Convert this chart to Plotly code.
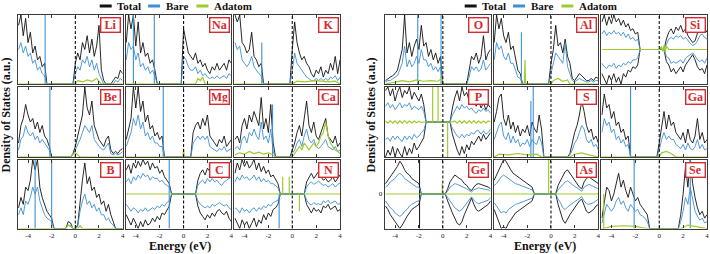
import plotly.graph_objects as go

# ---------------- energy grid (eV) ----------------
E = [-4.8, -4.6, -4.4, -4.2, -4.0, -3.8, -3.6, -3.4, -3.2, -3.0, -2.8, -2.6, -2.4, -2.2, -2.0,
     -1.8, -1.6, -1.4, -1.2, -1.0, -0.8, -0.6, -0.4, -0.2, 0.0, 0.2, 0.4, 0.6, 0.8, 1.0, 1.2,
     1.4, 1.6, 1.8, 2.0, 2.2, 2.4, 2.6, 2.8, 3.0, 3.2, 3.4, 3.6, 3.8, 4.0]
X_TICKS = [-4, -2, 0, 2, 4]
LEGEND_LABELS = ["Total", "Bare", "Adatom"]
Y_TITLE = "Density of States (a.u.)"
X_TITLE = "Energy (eV)"

# ---------------- DOS values (a.u., % of panel height) ----------------
LI_TOTAL = [85,100,70,95,60,75,45,55,35,40,25,30, 0,0,0,0,0,0,0,0,0,0,0,0, 30,45,35,60,50,70,45,65,40,55,85,20,5,0,0,0,5,10,8,20,15]
LI_BARE = [50,60,45,55,40,45,30,35,20,25,15,12, 0,0,0,0,0,0,0,0,0,0,0,0, 15,25,20,35,30,40,25,35,20,30,15,8,0,0,0,0,0,5,3,8,5]
LI_BARE_STICKS = [(-2.55, 100)]
LI_ADATOM = [(-4.8,0),(0.0,0),(0.2,5),(0.6,3),(1.0,6),(1.4,4),(1.8,8),(2.2,0),(4.0,0)]

NA_TOTAL = [60,100,80,100,55,90,45,60,40,45,30,35,20, 0,0,0,0,0,0,0,0,0,0,0, 80,60,45,40,35,45,30,35,25,30,20,15,25,20,30,20,25,30,20,35,30]
NA_BARE = [35,60,50,55,35,45,25,30,20,25,15,20,12, 0,0,0,0,0,0,0,0,0,0,0, 40,35,25,20,20,25,15,20,12,15,10,8,10,8,12,8,10,12,8,15,12]
NA_BARE_STICKS = [(-4.2, 100), (-2.45, 100)]
NA_ADATOM = [(-4.8,0),(1.0,0),(1.2,8),(1.4,5),(1.6,10),(1.8,0),(4.0,0)]

K_TOTAL = [100,90,100,60,55,45,50,75,40,35,25,30, 0,0,0,0,0,0,0,0,0,0,0,0, 50,90,60,45,35,40,30,25,15,10,20,15,25,10,20,15,30,20,40,15,35]
K_BARE = [60,50,55,35,30,25,30,40,25,20,15,12, 0,0,0,0,0,0,0,0,0,0,0,0, 20,45,30,25,20,15,10,8,5,5,8,5,8,5,8,5,10,8,12,5,10]
K_BARE_STICKS = [(-2.55, 60)]
K_ADATOM = [(-4.8,0),(0.0,0),(0.4,4),(1.0,3),(2.0,5),(3.0,3),(3.6,4),(4.0,0)]

BE_TOTAL = [20,45,55,75,60,50,55,40,50,35,45,30,25,15, 0,0,0,0,0,0,0,0,0, 5, 15,30,45,60,100,70,60,80,45,35,25,20,15,25,30,10,5,8,5,10,12]
BE_BARE = [10,25,30,45,35,30,35,25,30,20,25,20,15,10, 0,0,0,0,0,0,0,0,0, 3, 10,18,25,35,45,40,35,45,25,20,15,12,10,15,20,5,3,5,3,5,8]
BE_BARE_STICKS = [(-2.15, 100)]
BE_ADATOM = [(-4.8,0),(-0.4,0),(-0.2,4),(0.0,6),(0.2,3),(0.4,0),(4.0,0)]

MG_TOTAL = [25,40,55,100,70,100,65,80,50,60,40,45,30,35,25,30, 0,0,0,0,0,0,0,0,0,0,0,0, 35,45,50,40,55,45,60,30,25,20,15,25,20,30,15,20,25]
MG_BARE = [15,25,35,55,45,60,40,50,30,35,25,30,20,20,15,15, 0,0,0,0,0,0,0,0,0,0,0,0, 20,25,30,25,30,25,30,15,12,10,8,12,10,15,8,10,12]
MG_BARE_STICKS = [(-1.7, 100)]
MG_ADATOM = [(-4.8,0),(-0.05,0),(0.0,12),(0.05,0),(4.0,0)]

CA_TOTAL = [25,30,20,45,55,40,60,50,65,55,45,85,40,55,35,75,20, 0,0,0,0,0,0,0, 10,20,35,45,30,55,80,45,35,50,30,25,35,45,55,30,25,20,30,15,20]
CA_BARE = [12,15,10,25,30,20,35,30,40,30,25,50,25,30,20,40,8, 0,0,0,0,0,0,0, 5,10,20,25,15,30,40,25,20,25,15,12,15,20,25,15,12,10,15,8,10]
CA_BARE_STICKS = [(-1.65, 75)]
CA_ADATOM = [(-4.8,3),(-4.4,6),(-4.0,4),(-3.6,8),(-3.2,5),(-2.8,7),(-2.4,4),(-2.0,6),(-1.6,3),(-1.4,0),
             (0.0,0),(0.2,5),(0.4,10),(0.6,15),(0.8,10),(1.0,20),(1.2,15),(1.4,10),(1.6,15),(1.8,20),
             (2.0,15),(2.2,20),(2.4,30),(2.6,35),(2.8,50),(3.0,30),(3.2,20),(3.4,15),(3.6,10),(3.8,8),(4.0,5)]

B_TOTAL = [30,45,35,60,55,70,100,85,100,60,45,35,25,20,15, 0,0,0,0,0,0, 10,8,0,0,5, 40,70,95,65,75,55,60,45,50,35,40,25,35,20,10, 0,0,0,0]
B_BARE = [20,30,20,40,35,45,60,50,60,40,30,20,15,12,10, 0,0,0,0,0,0, 5,3,0,0,3, 25,40,50,35,40,30,35,25,30,20,20,12,15,8,5, 0,0,0,0]
B_BARE_STICKS = [(-3.4, 100), (-2.0, 100)]
B_ADATOM = [(-4.8,0),(-0.8,0),(-0.6,5),(-0.4,4),(-0.2,0),(0.2,0),(0.4,4),(0.6,0),(4.0,0)]

C_TOTAL_UP = [70,85,60,90,75,95,80,100,85,95,70,90,75,80,60,70,50,40,30, 0,0,0,0,0,0,0,0,0,0,0, 40,60,70,55,75,65,80,60,70,55,45,60,70,85,100]
C_TOTAL_DN = [60,75,90,70,85,100,80,95,75,90,85,70,80,65,75,55,60,45,35, 0,0,0,0,0,0,0,0,0,0,0, 35,55,65,75,60,70,55,65,50,45,55,60,50,70,80]
C_BARE_UP = [35,45,30,50,40,55,45,60,50,55,40,50,45,45,35,40,30,25,20, 0,0,0,0,0,0,0,0,0,0,0, 25,35,40,30,45,35,45,35,40,30,25,35,40,45,50]
C_BARE_DN = [30,40,50,40,45,55,45,50,40,50,45,40,45,35,40,30,35,25,20, 0,0,0,0,0,0,0,0,0,0,0, 20,30,35,40,35,40,30,35,30,25,30,35,30,40,45]
C_BARE_STICKS = [(-1.2, 100), (-1.2, -100)]
C_ADATOM = [(-4.8,0),(4.0,0)]

N_TOTAL_UP = [60,90,70,100,80,95,75,85,100,70,90,65,80,60,70,50,55,40,30, 0,0,0,0,0,0,0,0,0,0,0, 35,50,60,45,55,65,50,40,45,35,40,50,35,45,55]
N_TOTAL_DN = [70,85,100,75,90,80,100,85,70,95,75,85,60,75,55,65,45,40,30, 0,0,0,0,0,0,0,0,0,0,0, 30,45,55,40,50,45,55,35,40,30,45,40,35,50,45]
N_BARE_UP = [35,50,40,55,45,50,40,45,55,40,50,35,45,35,40,30,30,25,18, 0,0,0,0,0,0,0,0,0,0,0, 20,30,35,28,32,38,30,25,28,20,25,30,20,28,32]
N_BARE_DN = [40,45,55,40,50,45,55,45,40,50,40,45,35,40,30,35,25,22,18, 0,0,0,0,0,0,0,0,0,0,0, 18,28,32,25,30,28,32,20,25,18,28,25,20,30,28]
N_BARE_STICKS = [(-1.1, -100)]
N_ADATOM = [(-4.8,0),(-0.8,0),(-0.8,50),(-0.8,0),(-0.25,0),(-0.25,50),(-0.25,0),(0.6,0),(0.6,-50),(0.6,0),(4.0,0)]

O_TOTAL = [5,8,10,12,15,20,35,50,100,45,60,40,55,65,50,85,55,60,40,50,35,45,30,40, 0,0,0,0,0,0,0,0,0,0,0, 20,40,35,45,30,40,70,35,45,50]
O_BARE = [3,5,5,8,10,12,20,30,55,25,35,25,30,40,30,50,35,35,25,30,20,25,18,25, 0,0,0,0,0,0,0,0,0,0,0, 10,25,20,25,18,22,35,20,25,30]
O_BARE_STICKS = [(-2.1, 100), (-0.15, 100)]
O_ADATOM = [(-4.8,0),(-4.0,3),(-3.4,5),(-2.8,3),(-2.2,6),(-1.6,4),(-1.0,5),(-0.4,4),(-0.1,8),(0.0,0),(4.0,0)]

AL_TOTAL = [60,100,80,95,70,60,75,50,55,35,20,15, 0,0,0,0,0,0,0,0,0,0,0,0, 30,50,85,55,60,45,65,40,30,8,5,10,15,12,8,5,5,8,5,10,8]
AL_BARE = [35,60,50,55,40,35,45,30,30,20,10,8, 0,0,0,0,0,0,0,0,0,0,0,0, 15,30,45,40,35,30,60,25,15,5,3,5,8,6,4,3,3,5,3,5,5]
AL_BARE_STICKS = [(-2.5, 75)]
AL_ADATOM = [(-4.8,0),(-2.25,0),(-2.2,35),(-2.15,0),(0.0,0),(0.2,5),(0.6,8),(1.0,4),(1.4,6),(1.6,0),(4.0,0)]

SI_TOTAL_UP = [80,100,70,95,75,100,80,90,70,85,65,75,55,60,45,50, 0,0,0,0,0,0,0,0,0,0,0, 30,50,60,45,65,55,70,50,60,40,30,20,25,45,70,80,60,50]
SI_TOTAL_DN = [70,85,100,75,90,70,95,80,100,70,80,60,65,50,55,45, 0,0,0,0,0,0,0,0,0,0,0, 35,45,65,55,70,60,50,65,45,35,25,15,30,50,60,55,70,45]
SI_BARE_UP = [45,55,40,50,45,55,45,50,40,50,35,45,30,35,25,30, 0,0,0,0,0,0,0,0,0,0,0, 15,30,35,30,40,35,40,30,35,25,18,12,15,25,40,45,35,30]
SI_BARE_DN = [40,50,55,45,50,40,55,45,50,40,45,35,40,30,30,25, 0,0,0,0,0,0,0,0,0,0,0, 20,25,40,35,40,35,30,40,25,20,15,10,18,30,35,30,40,25]
SI_BARE_STICKS = []
SI_ADATOM = [(-4.8,0),(0.0,0),(0.2,8),(0.3,-6),(0.4,12),(0.5,-8),(0.6,10),(0.8,0),(4.0,0)]

P_TOTAL_UP = [90,100,75,95,60,85,100,70,90,80,100,65,85,70,60,80,50, 0,0,0,0,0,0,0,0,0,0,0, 40,70,90,60,100,75,85,60,70,55,45,60,40,55,35,50,40]
P_TOTAL_DN = [100,80,95,70,100,75,90,100,70,95,75,90,60,80,70,55,45, 0,0,0,0,0,0,0,0,0,0,0, 35,60,80,95,70,90,65,80,55,65,50,40,55,35,50,40,30]
P_BARE_UP = [45,55,40,50,35,45,55,40,50,45,55,35,45,40,35,45,30, 0,0,0,0,0,0,0,0,0,0,0, 20,35,45,35,50,40,45,35,40,30,25,35,30,40,30,35,25]
P_BARE_DN = [50,45,55,40,50,40,50,55,40,50,40,50,35,45,40,30,25, 0,0,0,0,0,0,0,0,0,0,0, 18,30,40,45,35,45,35,40,30,35,25,25,35,25,35,30,20]
P_BARE_STICKS = []
P_ADATOM = [(-4.8,3),(-4.6,-3),(-4.4,4),(-4.2,-3),(-4.0,3),(-3.8,-4),(-3.6,3),(-3.4,-3),(-3.2,4),(-3.0,-3),
            (-2.8,3),(-2.6,-3),(-2.4,3),(-2.2,-2),(-2.0,2),(-1.8,-2),(-1.6,0),
            (-0.85,0),(-0.85,100),(-0.85,0),(-0.4,0),(-0.4,100),(-0.4,0),(0.4,0),(0.4,-100),(0.4,0),
            (0.8,0),(1.0,3),(1.2,-3),(1.4,4),(1.6,-3),(1.8,3),(2.0,-4),(2.2,3),(2.4,-3),(2.6,4),
            (2.8,-3),(3.0,3),(3.2,-3),(3.4,3),(3.6,-3),(3.8,3),(4.0,0)]

S_TOTAL = [50,65,85,90,55,45,60,40,50,35,45,30,40,35,45,30,50,40,35,60,40, 0,0,0,0,0,0,0,0,0,0,0, 5,20,35,45,60,80,65,45,35,40,25,30,20]
S_BARE = [25,35,45,50,30,25,35,20,30,20,25,15,20,18,25,15,25,20,18,30,20, 0,0,0,0,0,0,0,0,0,0,0, 3,10,20,25,35,45,40,25,20,25,15,18,10]
S_BARE_STICKS = [(-1.7, 80), (-1.5, 100)]
S_ADATOM = [(-4.8,0),(-4.4,4),(-3.6,3),(-2.8,5),(-2.0,3),(-1.2,4),(-0.8,0),(1.6,0),(2.0,4),(2.6,6),(3.2,3),(4.0,0)]

GA_TOTAL = [60,90,70,75,55,65,45,50,35,40,25,30, 0,0,0,0,0,0,0,0,0,0,0,0, 20,45,65,40,60,45,50,35,30,25,35,20,40,25,20,30,55,25,35,20,25]
GA_BARE = [35,55,45,50,35,40,25,30,20,25,15,18, 0,0,0,0,0,0,0,0,0,0,0,0, 10,25,35,25,30,25,25,18,15,12,18,10,20,12,10,15,25,12,18,10,12]
GA_BARE_STICKS = [(-2.4, 100)]
GA_ADATOM = [(-4.8,0),(0.0,0),(0.2,6),(0.6,8),(1.0,5),(1.4,0),(4.0,0)]

GE_TOTAL_UP = [30,40,50,60,70,80,95,85,70,60,55,45,40,35,30, 0,0,0,0,0,0,0,0,0,0,0, 15,35,45,55,50,45,40,30,25,15,10,20,28,30,28,25,22,20,15]
GE_TOTAL_DN = [35,45,60,70,80,90,100,90,75,65,55,45,40,35,30, 0,0,0,0,0,0,0,0,0,0,0, 20,40,55,70,85,90,80,60,45,25,12,30,45,50,45,40,35,30,20]
GE_BARE_UP = [20,25,35,40,45,55,60,55,45,40,35,30,25,20,20, 0,0,0,0,0,0,0,0,0,0,0, 8,20,25,30,28,25,22,18,15,10,6,12,16,18,16,15,13,12,8]
GE_BARE_DN = [20,30,40,45,55,60,65,60,50,45,35,30,25,22,20, 0,0,0,0,0,0,0,0,0,0,0, 10,22,30,40,45,50,45,35,25,15,8,18,25,28,25,22,20,18,10]
GE_TOTAL_STICKS = [(-1.95, 100), (-1.95, -100)]
GE_BARE_STICKS = []
GE_ADATOM = [(-4.8,0),(-0.05,0),(-0.05,30),(-0.05,0),(4.0,0)]

AS_TOTAL_UP = [40,55,75,90,100,95,80,70,60,55,50,45,40,35,30,25,20, 0,0,0,0,0,0,0,0,0,0, 25,40,55,65,70,60,50,40,30,20,15,35,45,50,45,40,35,30]
AS_TOTAL_DN = [45,65,85,100,95,100,85,75,65,55,50,45,40,35,30,25,20, 0,0,0,0,0,0,0,0,0,0, 30,50,75,85,70,60,50,40,30,20,15,35,50,55,50,45,35,30]
AS_BARE_UP = [25,30,40,50,55,50,45,40,35,30,28,25,22,20,18,15,12, 0,0,0,0,0,0,0,0,0,0, 12,20,30,35,38,32,28,22,18,12,8,20,25,28,25,22,20,15]
AS_BARE_DN = [25,35,45,55,50,55,45,40,35,30,28,25,22,20,18,15,12, 0,0,0,0,0,0,0,0,0,0, 15,25,40,45,38,32,28,22,18,12,8,20,28,30,28,25,20,15]
AS_BARE_STICKS = []
AS_ADATOM = [(-4.8,0),(-0.2,0),(-0.2,100),(-0.2,0),(4.0,0)]

SE_TOTAL = [15,35,60,55,40,50,65,80,60,70,55,45,60,50,40,45,35,30,25,20, 0,0,0,0,0,0,0,0,0,0,0,0,0, 20,50,90,60,100,65,45,30,20,25,15,20]
SE_BARE = [8,20,35,30,25,30,40,45,35,40,30,25,35,30,25,28,20,18,15,10, 0,0,0,0,0,0,0,0,0,0,0,0,0, 10,25,45,35,60,40,25,18,12,15,8,10]
SE_BARE_STICKS = [(-2.1, 100), (2.6, 100)]
SE_ADATOM = [(-4.8,0),(-4.65,0),(-4.65,50),(-4.65,0),(-4.0,3),(-3.0,4),(-2.0,3),(-1.0,0),(1.8,0),(2.4,5),(3.0,3),(4.0,0)]

# ---------------- panel table ----------------
def P(name, total, bare, bare_sticks, adatom, total_dn=None, bare_dn=None, total_sticks=()):
    return dict(name=name, total=total, bare=bare, bare_sticks=bare_sticks, adatom=adatom,
                total_dn=total_dn, bare_dn=bare_dn, total_sticks=list(total_sticks))

PANELS = [
    P("Li", LI_TOTAL, LI_BARE, LI_BARE_STICKS, LI_ADATOM),
    P("Na", NA_TOTAL, NA_BARE, NA_BARE_STICKS, NA_ADATOM),
    P("K", K_TOTAL, K_BARE, K_BARE_STICKS, K_ADATOM),
    P("Be", BE_TOTAL, BE_BARE, BE_BARE_STICKS, BE_ADATOM),
    P("Mg", MG_TOTAL, MG_BARE, MG_BARE_STICKS, MG_ADATOM),
    P("Ca", CA_TOTAL, CA_BARE, CA_BARE_STICKS, CA_ADATOM),
    P("B", B_TOTAL, B_BARE, B_BARE_STICKS, B_ADATOM),
    P("C", C_TOTAL_UP, C_BARE_UP, C_BARE_STICKS, C_ADATOM, C_TOTAL_DN, C_BARE_DN),
    P("N", N_TOTAL_UP, N_BARE_UP, N_BARE_STICKS, N_ADATOM, N_TOTAL_DN, N_BARE_DN),
    P("O", O_TOTAL, O_BARE, O_BARE_STICKS, O_ADATOM),
    P("Al", AL_TOTAL, AL_BARE, AL_BARE_STICKS, AL_ADATOM),
    P("Si", SI_TOTAL_UP, SI_BARE_UP, SI_BARE_STICKS, SI_ADATOM, SI_TOTAL_DN, SI_BARE_DN),
    P("P", P_TOTAL_UP, P_BARE_UP, P_BARE_STICKS, P_ADATOM, P_TOTAL_DN, P_BARE_DN),
    P("S", S_TOTAL, S_BARE, S_BARE_STICKS, S_ADATOM),
    P("Ga", GA_TOTAL, GA_BARE, GA_BARE_STICKS, GA_ADATOM),
    P("Ge", GE_TOTAL_UP, GE_BARE_UP, GE_BARE_STICKS, GE_ADATOM, GE_TOTAL_DN, GE_BARE_DN, GE_TOTAL_STICKS),
    P("As", AS_TOTAL_UP, AS_BARE_UP, AS_BARE_STICKS, AS_ADATOM, AS_TOTAL_DN, AS_BARE_DN),
    P("Se", SE_TOTAL, SE_BARE, SE_BARE_STICKS, SE_ADATOM),
]

for p in PANELS:
    for key in ("total", "bare", "total_dn", "bare_dn"):
        if p[key] is not None:
            assert len(p[key]) == len(E), (p["name"], key, len(p[key]))

# ---------------- style / geometry ----------------
W, H = 710, 254
BLACK = "#111111"
BLUE = "#3f8fd2"
GREEN = "#9fcb2f"
RED = "#d42a30"
FRAME = "#3a3a3a"
FONT = "Liberation Serif"
COL_X = [(18, 123), (126, 232), (235, 341), (386, 492), (495, 600), (603, 709)]
ROW_Y = [(15, 84), (87, 157), (159.5, 228.5)]
XR = [-4.85, 4.0]


def px(x):
    return x / W


def py(y):
    return 1 - y / H


def sticks_xy(sticks):
    xs, ys = [], []
    for e, h in sticks:
        xs += [e, e, None]
        ys += [0, h, None]
    return xs, ys


fig = go.Figure()
layout = {}
shapes = []
annotations = []

for i, p in enumerate(PANELS):
    n = i + 1
    grp, r, c = i // 9, (i % 9) // 3, i % 3
    x0, x1 = COL_X[grp * 3 + c]
    y0, y1 = ROW_Y[r]
    xa, ya = ("x%d" % n if n > 1 else "x"), ("y%d" % n if n > 1 else "y")
    spin = p["total_dn"] is not None
    common = dict(xaxis=xa, yaxis=ya, mode="lines", showlegend=False, hoverinfo="skip")

    # Total
    fig.add_trace(go.Scatter(x=E, y=p["total"], line=dict(color=BLACK, width=0.9), **common))
    if spin:
        fig.add_trace(go.Scatter(x=E, y=[-v for v in p["total_dn"]], line=dict(color=BLACK, width=0.9), **common))
    if p["total_sticks"]:
        sx, sy = sticks_xy(p["total_sticks"])
        fig.add_trace(go.Scatter(x=sx, y=sy, line=dict(color=BLACK, width=1), **common))
    # Bare
    fig.add_trace(go.Scatter(x=E, y=p["bare"], line=dict(color=BLUE, width=0.9), **common))
    if spin:
        fig.add_trace(go.Scatter(x=E, y=[-v for v in p["bare_dn"]], line=dict(color=BLUE, width=0.9), **common))
    if p["bare_sticks"]:
        sx, sy = sticks_xy(p["bare_sticks"])
        fig.add_trace(go.Scatter(x=sx, y=sy, line=dict(color=BLUE, width=1.1), **common))
    # Adatom
    fig.add_trace(go.Scatter(x=[a for a, _ in p["adatom"]], y=[b for _, b in p["adatom"]],
                             line=dict(color=GREEN, width=1.2), **common))

    bottom = (r == 2)
    layout["xaxis%d" % n if n > 1 else "xaxis"] = dict(
        domain=[px(x0), px(x1)], anchor=ya, range=XR, tickvals=X_TICKS,
        ticktext=[str(t) for t in X_TICKS], showticklabels=bottom,
        tickfont=dict(family=FONT, size=7, color="#222"),
        ticks="inside", ticklen=3, tickwidth=0.8, tickcolor=FRAME,
        showgrid=False, zeroline=False, showline=True, linecolor=FRAME, linewidth=1.4,
        mirror="ticks", fixedrange=True)
    yd = dict(domain=[py(y1), py(y0)], anchor=xa, range=[-100, 100] if spin else [0, 100],
              showgrid=False, zeroline=False, showline=True, linecolor=FRAME, linewidth=1.4,
              mirror=True, ticks="", showticklabels=False, fixedrange=True)
    if p["name"] == "Ge":
        yd.update(tickvals=[0], ticktext=["0"], showticklabels=True,
                  tickfont=dict(family=FONT, size=7, color="#222"))
    layout["yaxis%d" % n if n > 1 else "yaxis"] = yd

    # Fermi level
    shapes.append(dict(type="line", xref=xa, yref=ya + " domain", x0=0, x1=0, y0=0, y1=1,
                       line=dict(color=BLACK, width=1.1, dash="3px,2px")))
    # element label box
    annotations.append(dict(xref="paper", yref="paper", x=px(x1 - 1.5), y=py(y0 + 2),
                            xanchor="right", yanchor="top", text="<b>%s</b>" % p["name"],
                            showarrow=False, width=16, height=11, borderpad=1, borderwidth=1.4,
                            bordercolor=RED, bgcolor="white", align="center", valign="middle",
                            font=dict(family=FONT, size=12, color=RED)))

# titles and legends for both figures
for off in (0, 366):
    annotations.append(dict(xref="paper", yref="paper", x=px(6.5 + off), y=py(115), text="<b>%s</b>" % Y_TITLE,
                            textangle=-90, showarrow=False, xanchor="center", yanchor="middle",
                            font=dict(family=FONT, size=12, color="#111")))
    annotations.append(dict(xref="paper", yref="paper", x=px(181 + off), y=py(246), text="<b>%s</b>" % X_TITLE,
                            showarrow=False, xanchor="center", yanchor="middle",
                            font=dict(family=FONT, size=12, color="#111")))
    for k, (lab, col) in enumerate(zip(LEGEND_LABELS, [BLACK, BLUE, GREEN])):
        lx = 100 + off + 48.5 * k
        shapes.append(dict(type="line", xref="paper", yref="paper", x0=px(lx), x1=px(lx + 12),
                           y0=py(6), y1=py(6), line=dict(color=col, width=3)))
        annotations.append(dict(xref="paper", yref="paper", x=px(lx + 15.5), y=py(6), text="<b>%s</b>" % lab,
                                showarrow=False, xanchor="left", yanchor="middle",
                                font=dict(family=FONT, size=11, color="#111")))

fig.update_layout(width=W, height=H, margin=dict(l=0, r=0, t=0, b=0), paper_bgcolor="white",
                  plot_bgcolor="white", shapes=shapes, annotations=annotations, **layout)
fig.write_html("out.html", config={"displayModeBar": False},
               post_script="document.body.style.margin='0';document.body.style.overflow='hidden';")
